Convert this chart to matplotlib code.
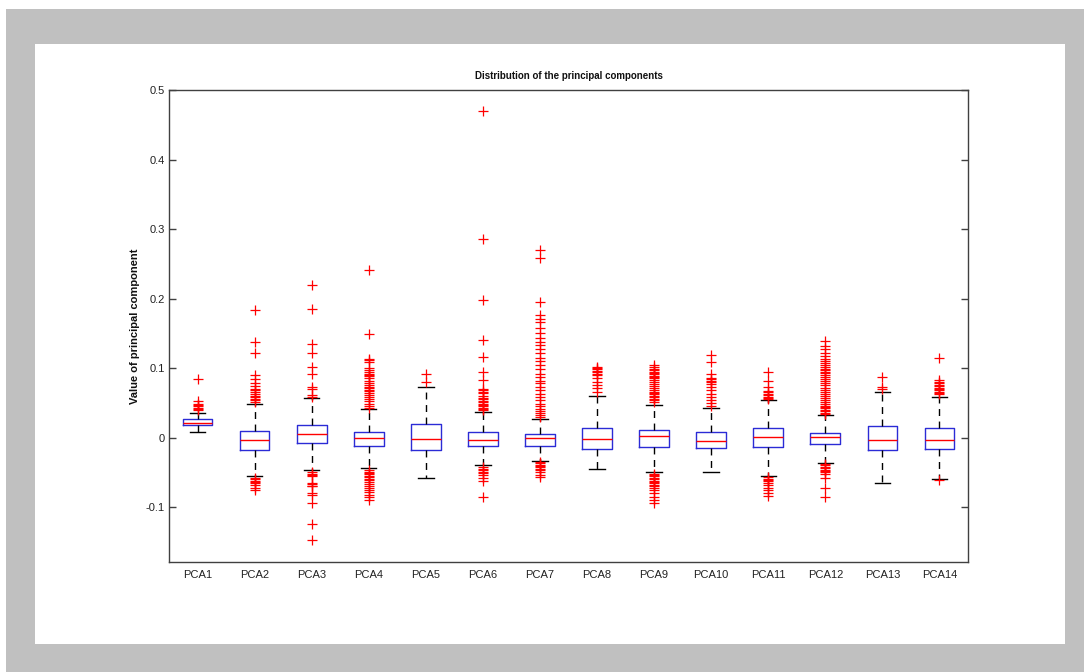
import matplotlib
matplotlib.use("Agg")
import matplotlib.pyplot as plt
from matplotlib.patches import Rectangle

# Box statistics for each principal component
labels = ['PCA1', 'PCA2', 'PCA3', 'PCA4', 'PCA5', 'PCA6', 'PCA7',
          'PCA8', 'PCA9', 'PCA10', 'PCA11', 'PCA12', 'PCA13', 'PCA14']
q1 = [0.018, -0.018, -0.008, -0.0125, -0.018, -0.0115, -0.0115,
      -0.0164, -0.014, -0.0154, -0.0135, -0.0096, -0.0178, -0.0164]
med = [0.0216, -0.004, 0.0058, -0.001, -0.0014, -0.003, -0.0006,
       -0.0014, 0.0023, -0.0043, 0.0004, 0.0009, -0.003, -0.003]
q3 = [0.026, 0.009, 0.0187, 0.0086, 0.0196, 0.0076, 0.0052,
      0.0144, 0.0115, 0.0086, 0.0144, 0.0072, 0.0167, 0.0138]
whisk_lo = [0.0076, -0.056, -0.0466, -0.044, -0.0586, -0.039, -0.033,
            -0.0446, -0.049, -0.049, -0.0547, -0.036, -0.0653, -0.059]
whisk_hi = [0.036, 0.048, 0.057, 0.0407, 0.0724, 0.0364, 0.026,
            0.0594, 0.0475, 0.0432, 0.0537, 0.033, 0.0657, 0.059]

out_pca1 = [0.084, 0.052, 0.049, 0.047, 0.045, 0.043, 0.041, 0.039]
out_pca2 = [0.183, 0.137, 0.121, 0.090, 0.084, 0.078, 0.074, 0.070, 0.068,
            0.066, 0.063, 0.060, 0.058, 0.056, 0.054, 0.051,
            -0.058, -0.060, -0.062, -0.064, -0.066, -0.068, -0.072, -0.075]
out_pca3 = [0.219, 0.185, 0.135, 0.122, 0.101, 0.091, 0.073, 0.0695, 0.061,
            0.059, -0.050, -0.052, -0.054, -0.055, -0.065, -0.067, -0.069,
            -0.070, -0.080, -0.083, -0.094, -0.124, -0.148]
out_pca4 = [0.241, 0.1496, 0.113, 0.111, 0.109, 0.100, 0.097, 0.094, 0.092,
            0.090, 0.088, 0.085, 0.082, 0.079, 0.076, 0.073, 0.071, 0.069,
            0.067, 0.064, 0.061, 0.058, 0.055, 0.052, 0.049, 0.046, 0.043,
            -0.046, -0.049, -0.051, -0.053, -0.055, -0.057, -0.059, -0.061,
            -0.064, -0.067, -0.070, -0.073, -0.076, -0.079, -0.082, -0.086,
            -0.090]
out_pca5 = [0.091, 0.080]
out_pca6 = [0.4695, 0.285, 0.1986, 0.140, 0.116, 0.0945, 0.0835, 0.070,
            0.068, 0.066, 0.064, 0.060, 0.057, 0.055, 0.053, 0.051, 0.049,
            0.047, 0.045, 0.043, 0.041, 0.039, -0.043, -0.045, -0.047,
            -0.049, -0.051, -0.054, -0.058, -0.063, -0.085]
out_pca7 = [0.2705, 0.2585, 0.1947, 0.176, 0.171, 0.166, 0.158, 0.150,
            0.143, 0.137, 0.133, 0.128, 0.121, 0.114, 0.110, 0.104, 0.098,
            0.092, 0.087, 0.082, 0.078, 0.073, 0.068, 0.063, 0.058, 0.054,
            0.049, 0.045, 0.041, 0.038, 0.035, 0.032, 0.029, -0.035, -0.037,
            -0.039, -0.041, -0.043, -0.045, -0.047, -0.050, -0.054, -0.057]
out_pca8 = [0.1016, 0.100, 0.098, 0.096, 0.094, 0.092, 0.090, 0.085, 0.080,
            0.076, 0.072, 0.066]
out_pca9 = [0.104, 0.101, 0.099, 0.097, 0.095, 0.093, 0.091, 0.089, 0.087,
            0.085, 0.083, 0.080, 0.077, 0.074, 0.071, 0.068, 0.066, 0.064,
            0.062, 0.060, 0.058, 0.056, 0.0537, 0.051, -0.052, -0.054,
            -0.056, -0.058, -0.060, -0.062, -0.064, -0.066, -0.068, -0.070,
            -0.072, -0.075, -0.080, -0.085, -0.090, -0.094]
out_pca10 = [0.1194, 0.108, 0.092, 0.0858, 0.084, 0.082, 0.080, 0.0777,
             0.073, 0.068, 0.063, 0.058, 0.054, 0.050, 0.046]
out_pca11 = [0.0944, 0.081, 0.073, 0.0666, 0.065, 0.063, 0.061, 0.059,
             0.057, 0.055, -0.057, -0.059, -0.061, -0.063, -0.065, -0.068,
             -0.072, -0.076, -0.080, -0.084]
out_pca12 = [0.1386, 0.132, 0.127, 0.122, 0.117, 0.113, 0.110, 0.107, 0.104,
             0.1016, 0.099, 0.097, 0.095, 0.093, 0.090, 0.087, 0.084, 0.081,
             0.078, 0.075, 0.072, 0.069, 0.066, 0.063, 0.060, 0.057, 0.054,
             0.051, 0.048, 0.046, 0.044, 0.042, 0.040, 0.038, 0.036, 0.0345,
             -0.038, -0.040, -0.042, -0.044, -0.046, -0.048, -0.050, -0.0528,
             -0.058, -0.073, -0.085]
out_pca13 = [0.087, 0.073, 0.070]
out_pca14 = [0.115, 0.0824, 0.080, 0.078, 0.076, 0.074, 0.072, 0.070, 0.068,
             0.066, 0.064, 0.0623, -0.0614]

outliers = [out_pca1, out_pca2, out_pca3, out_pca4, out_pca5, out_pca6,
            out_pca7, out_pca8, out_pca9, out_pca10, out_pca11, out_pca12,
            out_pca13, out_pca14]

yticks = [-0.1, 0, 0.1, 0.2, 0.3, 0.4, 0.5]
ytick_labels = ['-0.1', '0', '0.1', '0.2', '0.3', '0.4', '0.5']

plt.rcParams['font.family'] = ['Liberation Sans', 'DejaVu Sans']

W, H = 1084, 672
fig = plt.figure(figsize=(W / 100, H / 100), dpi=100, facecolor='white')

# grey window frame with the white figure area on top
fig.patches.append(Rectangle((6 / W, 0), (W - 6) / W, (H - 9) / H,
                             transform=fig.transFigure, facecolor='#c0c0c0',
                             edgecolor='none', zorder=-10))
fig.patches.append(Rectangle((35 / W, (H - 644) / H), 1030 / W, 600 / H,
                             transform=fig.transFigure, facecolor='white',
                             edgecolor='none', zorder=-9))

ax = fig.add_axes([169 / W, (H - 562) / H, 799 / W, 472 / H])
ax.set_facecolor('white')

stats = []
for i in range(len(labels)):
    stats.append({'label': labels[i], 'q1': q1[i], 'med': med[i], 'q3': q3[i],
                  'whislo': whisk_lo[i], 'whishi': whisk_hi[i],
                  'fliers': outliers[i]})

ax.bxp(stats, positions=range(1, len(labels) + 1), widths=0.52,
       capwidths=0.27,
       boxprops=dict(color='#2b2bd6', linewidth=1.0),
       medianprops=dict(color='#ff0000', linewidth=1.0),
       whiskerprops=dict(color='black', linewidth=1.0, linestyle=(0, (5, 4))),
       capprops=dict(color='black', linewidth=1.0),
       flierprops=dict(marker='+', markersize=6.5, markeredgecolor='#ff0000',
                       markeredgewidth=0.9, linestyle='none'))

ax.set_xlim(0.5, len(labels) + 0.5)
ax.set_ylim(-0.179, 0.5)
ax.set_yticks(yticks)
ax.set_yticklabels(ytick_labels)
ax.tick_params(axis='y', direction='in', length=5, width=1, color='#404040',
               right=True, labelsize=8, pad=3, labelcolor='#222222')
ax.tick_params(axis='x', length=0, labelsize=8, pad=6, labelcolor='#222222')
for s in ax.spines.values():
    s.set_color('#404040')
    s.set_linewidth(1.0)

ax.set_title('Distribution of the principal components', fontsize=7,
             fontweight='bold', pad=8, color='#111111')
ax.set_ylabel('Value of principal component', fontsize=8, fontweight='bold',
              labelpad=4, color='#111111')

fig.savefig('out.png', dpi=100, facecolor='white')
